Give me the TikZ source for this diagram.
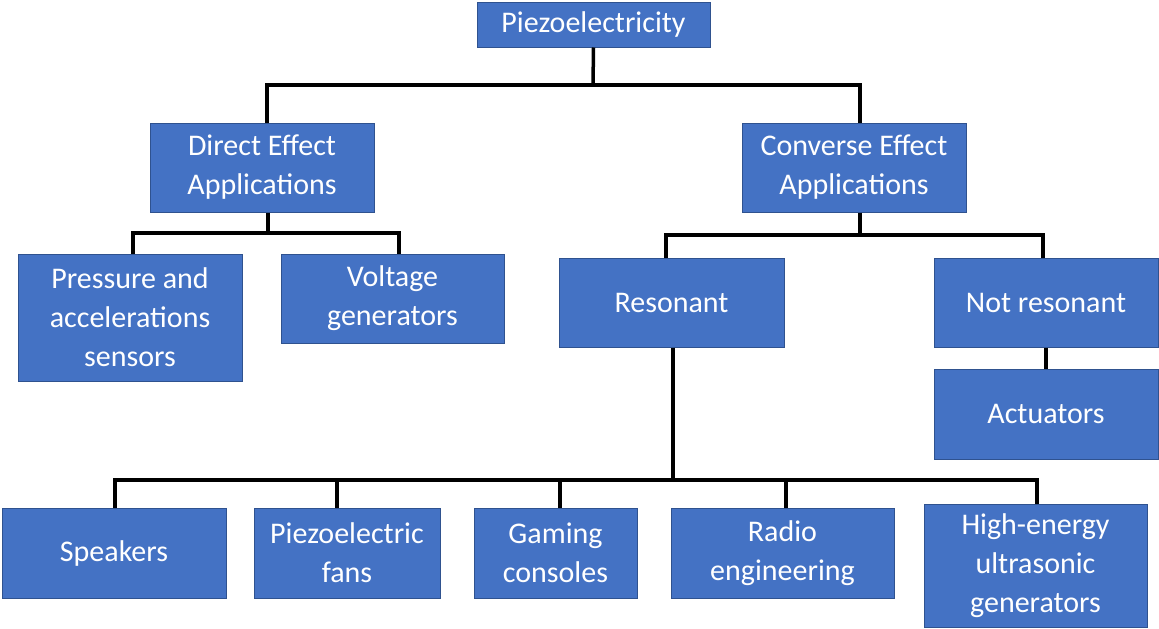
\documentclass[tikz,border=0pt]{standalone}
\usepackage{fontspec}
\setmainfont{Carlito}
\definecolor{boxfill}{HTML}{4472C4}
\definecolor{boxline}{HTML}{2F528F}
\begin{document}
\begin{tikzpicture}[x=1pt,y=-1pt,
  box/.style={rectangle, fill=boxfill, draw=boxline, line width=1pt, text=white,
    align=center, inner sep=0pt, font=\fontsize{30}{39}\selectfont},
  link/.style={draw=black, line width=3.5pt}]
\useasboundingbox (0,0) rectangle (1159,629);
\fill[white] (0,0) rectangle (1159,629);

\node[box, minimum width=233pt, minimum height=45pt] (root) at (593.5,24.5) {Piezoelectricity};
\node[box, minimum width=224pt, minimum height=89pt] (direct) at (262,167.5) {Direct Effect\\Applications};
\node[box, minimum width=224pt, minimum height=89pt] (converse) at (854,167.5) {Converse Effect\\Applications};
\node[box, minimum width=224pt, minimum height=127pt] (pressure) at (130,317.5) {Pressure and\\accelerations\\sensors};
\node[box, minimum width=223pt, minimum height=89pt] (voltage) at (392.5,298.5) {Voltage\\generators};
\node[box, minimum width=225pt, minimum height=89pt] (resonant) at (671.5,302.5) {Resonant};
\node[box, minimum width=224pt, minimum height=89pt] (notres) at (1046,302.5) {Not resonant};
\node[box, minimum width=224pt, minimum height=90pt] (actuators) at (1046,414) {Actuators};
\node[box, minimum width=224pt, minimum height=90pt] (speakers) at (114,553) {Speakers};
\node[box, minimum width=186pt, minimum height=90pt] (fans) at (347,553) {Piezoelectric\\fans};
\node[box, minimum width=163pt, minimum height=90pt] (gaming) at (555.5,553) {Gaming\\consoles};
\node[box, minimum width=223pt, minimum height=90pt] (radio) at (782.5,553) {Radio\\engineering};
\node[box, minimum width=223pt, minimum height=123pt] (high) at (1035.5,565.5) {High-energy\\ultrasonic\\generators};

\coordinate (busA) at (593,85);
\coordinate (busB) at (268,233);
\coordinate (busC) at (860,235);
\coordinate (busD) at (673,480);

% root level
\draw[link] (root.south) -- (busA);
\draw[link] ([xshift=5pt]direct.north) |- (busA) -| ([xshift=6pt]converse.north);
% direct children
\draw[link] ([xshift=6pt]direct.south) -- ([xshift=6pt]direct.south |- busB);
\draw[link] ([xshift=3pt]pressure.north) |- (busB) -| ([xshift=6.5pt]voltage.north);
% converse children
\draw[link] ([xshift=6pt]converse.south) -- ([xshift=6pt]converse.south |- busC);
\draw[link] ([xshift=-5.5pt]resonant.north) |- (busC) -| ([xshift=-3pt]notres.north);
% not resonant to actuators
\draw[link] (notres.south) -- (actuators.north);
% resonant children
\draw[link] ([xshift=1.5pt]resonant.south) -- (busD);
\draw[link] ([xshift=1pt]speakers.north) |- (busD) -| ([xshift=1.5pt]high.north);
\draw[link] ([xshift=-10pt]fans.north) -- ([xshift=-10pt]fans.north |- busD);
\draw[link] ([xshift=4.5pt]gaming.north) -- ([xshift=4.5pt]gaming.north |- busD);
\draw[link] ([xshift=3.5pt]radio.north) -- ([xshift=3.5pt]radio.north |- busD);
\end{tikzpicture}
\end{document}
